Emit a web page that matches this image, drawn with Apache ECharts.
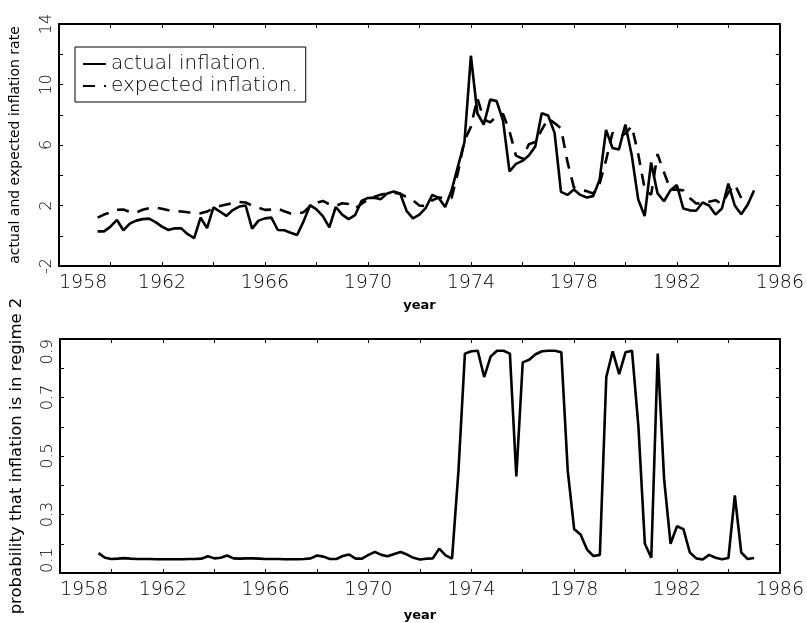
<!DOCTYPE html>
<html>
<head>
<meta charset="utf-8">
<script src="https://cdn.jsdelivr.net/npm/echarts@6/dist/echarts.min.js"></script>
<style>
  html, body { margin: 0; padding: 0; background: #fff; }
  #chart { width: 807px; height: 623px; }
</style>
</head>
<body>
<div id="chart"></div>
<script>
// quarterly observations, first one at 1959.5
const startYear = 1959.5;
const stepYears = 0.25;

const actualInflation = [
  0.29, 0.29, 0.6, 1.05, 0.36, 0.8, 1.0, 1.1, 1.13, 0.9,
  0.6, 0.38, 0.5, 0.49, 0.1, -0.15, 1.2, 0.5, 1.87, 1.6,
  1.31, 1.7, 1.93, 2.0, 0.47, 1.0, 1.15, 1.2, 0.38, 0.36,
  0.2, 0.05, 0.95, 2.02, 1.75, 1.3, 0.55, 1.9, 1.4, 1.1,
  1.36, 2.3, 2.5, 2.52, 2.42, 2.8, 2.93, 2.8, 1.65, 1.15,
  1.4, 1.85, 2.7, 2.5, 1.9, 3.0, 4.6, 6.2, 11.9, 8.1,
  7.35, 9.0, 8.9, 7.6, 4.25, 4.75, 4.95, 5.3, 5.9, 8.1,
  7.95, 6.8, 2.9, 2.7, 3.05, 2.7, 2.53, 2.62, 3.7, 7.0,
  5.8, 5.7, 7.35, 5.3, 2.4, 1.3, 4.85, 2.8, 2.28, 3.0,
  3.35, 1.8, 1.68, 1.65, 2.2, 2.0, 1.4, 1.8, 3.45, 2.0,
  1.42, 2.05, 3.0
];

const expectedInflation = [
  1.2, 1.4, 1.55, 1.72, 1.73, 1.58, 1.53, 1.72, 1.82, 1.86,
  1.78, 1.69, 1.65, 1.6, 1.55, 1.52, 1.48, 1.6, 1.83, 1.96,
  2.07, 2.15, 2.23, 2.2, 2.0, 1.85, 1.71, 1.73, 1.79, 1.62,
  1.47, 1.47, 1.55, 1.95, 2.17, 2.3, 2.08, 1.97, 2.15, 2.1,
  1.8, 2.1, 2.4, 2.58, 2.72, 2.8, 2.83, 2.78, 2.55, 2.34,
  2.0, 1.95, 2.35, 2.52, 2.5, 2.5, 4.2, 6.3, 7.2, 9.1,
  7.7, 7.5, 7.9, 8.05, 6.9, 5.3, 5.1, 6.05, 6.2, 7.0,
  7.75, 7.45, 7.1, 4.9, 3.2, 3.03, 2.95, 2.8, 3.45, 5.0,
  6.8, 6.55, 6.75, 7.25, 5.4, 3.1, 2.7, 5.4, 4.2, 3.05,
  3.05, 3.0, 2.5, 2.13, 2.15, 2.25, 2.35, 2.1, 2.85, 3.4,
  2.5, null, null
];

const probRegime2 = [
  0.168, 0.152, 0.148, 0.149, 0.151, 0.149, 0.148, 0.148, 0.148, 0.147,
  0.147, 0.147, 0.147, 0.147, 0.148, 0.148, 0.149, 0.157, 0.15, 0.152,
  0.16, 0.15, 0.149, 0.15, 0.15, 0.149, 0.148, 0.148, 0.148, 0.147,
  0.147, 0.147, 0.148, 0.15, 0.16, 0.156, 0.148, 0.148, 0.158, 0.163,
  0.149, 0.149, 0.162, 0.172, 0.162, 0.157, 0.165, 0.172, 0.163, 0.152,
  0.146, 0.149, 0.15, 0.183, 0.16, 0.149, 0.45, 0.85, 0.858, 0.86,
  0.77, 0.84, 0.86, 0.86, 0.85, 0.43, 0.82, 0.829, 0.848, 0.858,
  0.86, 0.86, 0.855, 0.45, 0.25, 0.232, 0.18, 0.158, 0.162, 0.77,
  0.858, 0.78, 0.855, 0.86, 0.6, 0.2, 0.152, 0.85, 0.42, 0.2,
  0.26, 0.25, 0.17, 0.15, 0.146, 0.162, 0.152, 0.147, 0.151, 0.365,
  0.17, 0.148, 0.151
];

const yearTicks = [1958, 1962, 1966, 1970, 1974, 1978, 1982, 1986];
const rateTicks = [-2, 2, 6, 10, 14];
const probTicks = [0.1, 0.3, 0.5, 0.7, 0.9];

const pair = vals => vals.map((v, i) => [startYear + i * stepYears, v]);

const frame = { show: true, onZero: false, lineStyle: { color: '#000', width: 2 } };
const tick = { show: true, inside: true, length: 4, lineStyle: { color: '#000', width: 1 } };
const labelFont = { color: '#000', fontFamily: 'DejaVu Sans', fontWeight: 200 };

function xAxes(grid) {
  return [{
    type: 'value', gridIndex: grid, position: 'bottom', min: 1958, max: 1986, interval: 2,
    name: 'year', nameLocation: 'middle', nameGap: grid === 0 ? 33 : 36,
    nameTextStyle: { color: '#000', fontFamily: 'DejaVu Sans', fontWeight: 'bold', fontSize: 13 },
    axisLine: frame, axisTick: tick, splitLine: { show: false },
    axisLabel: Object.assign({
      fontSize: 19, margin: 8, alignMinLabel: 'left',
      formatter: v => yearTicks.includes(v) ? String(v) : ''
    }, labelFont)
  }, {
    type: 'value', gridIndex: grid, position: 'top', min: 1958, max: 1986, interval: 2,
    axisLine: frame, axisTick: tick, axisLabel: { show: false }, splitLine: { show: false }
  }];
}

const option = {
  backgroundColor: '#fff',
  animation: false,
  grid: [
    { left: 53, right: 26, top: 24, height: 242 },
    { left: 53, right: 26, top: 339, height: 238 }
  ],
  legend: {
    left: 75, top: 47, orient: 'vertical',
    borderColor: '#000', borderWidth: 1, borderRadius: 0,
    padding: [6, 8, 5, 7], itemGap: 0, itemWidth: 23, itemHeight: 14,
    itemStyle: { opacity: 0 },
    textStyle: { color: '#000', fontFamily: 'DejaVu Sans', fontWeight: 200, fontSize: 20, lineHeight: 22 },
    data: ['actual inflation.', 'expected inflation.']
  },
  xAxis: xAxes(0).concat(xAxes(1)),
  yAxis: [{
    type: 'value', gridIndex: 0, position: 'left', min: -2, max: 14, interval: 2,
    name: 'actual and expected inflation rate', nameLocation: 'middle', nameGap: 37,
    nameTextStyle: { color: '#000', fontFamily: 'DejaVu Sans', fontSize: 14 },
    axisLine: frame, axisTick: tick, splitLine: { show: false },
    axisLabel: Object.assign({
      fontSize: 16, rotate: 90, margin: 4,
      formatter: v => rateTicks.includes(v) ? String(v) : ''
    }, labelFont)
  }, {
    type: 'value', gridIndex: 0, position: 'right', min: -2, max: 14, interval: 2,
    axisLine: frame, axisTick: tick, axisLabel: { show: false }, splitLine: { show: false }
  }, {
    type: 'value', gridIndex: 1, position: 'left', min: 0.1, max: 0.9, interval: 0.1,
    name: 'probability that inflation is in regime 2', nameLocation: 'middle', nameGap: 35,
    nameTextStyle: { color: '#000', fontFamily: 'DejaVu Sans', fontSize: 16.5 },
    axisLine: frame, axisTick: tick, splitLine: { show: false },
    axisLabel: Object.assign({
      fontSize: 16, rotate: 90, margin: 4, alignMinLabel: 'left', alignMaxLabel: 'right',
      formatter: v => probTicks.some(t => Math.abs(t - v) < 1e-6) ? v.toFixed(1) : ''
    }, labelFont)
  }, {
    type: 'value', gridIndex: 1, position: 'right', min: 0.1, max: 0.9, interval: 0.1,
    axisLine: frame, axisTick: tick, axisLabel: { show: false }, splitLine: { show: false }
  }],
  series: [{
    name: 'actual inflation.', type: 'line', xAxisIndex: 0, yAxisIndex: 0,
    data: pair(actualInflation), symbol: 'none',
    lineStyle: { color: '#000', width: 2.6 }, itemStyle: { color: '#000' }
  }, {
    name: 'expected inflation.', type: 'line', xAxisIndex: 0, yAxisIndex: 0,
    data: pair(expectedInflation), symbol: 'none',
    lineStyle: { color: '#000', width: 2.6, type: [12, 9] }, itemStyle: { color: '#000' }
  }, {
    name: 'regime 2 probability', type: 'line', xAxisIndex: 2, yAxisIndex: 2,
    data: pair(probRegime2), symbol: 'none',
    lineStyle: { color: '#000', width: 2.6 }, itemStyle: { color: '#000' }
  }]
};

const chart = echarts.init(document.getElementById('chart'), null, { renderer: 'canvas' });
chart.setOption(option);
</script>
</body>
</html>
